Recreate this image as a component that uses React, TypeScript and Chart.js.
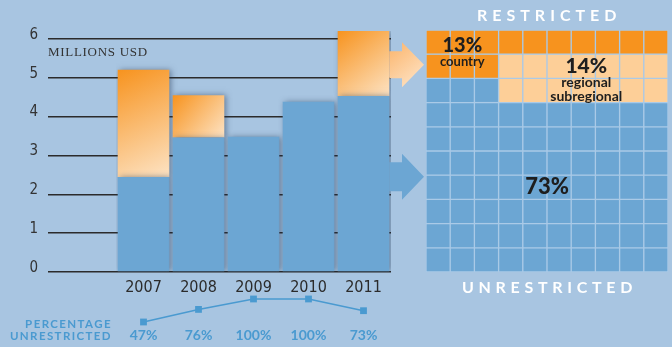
import React, { useEffect, useRef } from 'react';
import { Chart, registerables } from 'chart.js';

Chart.register(...registerables);

// ---------- data ----------
const years = ['2007', '2008', '2009', '2010', '2011'];
const totalsMillionUsd = [5.2, 4.55, 3.48, 4.38, 6.2];
const pctUnrestricted = [47, 76, 100, 100, 73];
const yTickValues = [0, 1, 2, 3, 4, 5, 6];
const restrictedShareLabels = ['13%', '14%'];
const restrictedShares = [13, 14]; // country, regional/subregional
const restrictedGroupNames = ['country', 'regional', 'subregional'];
const unrestrictedShare = 73;

// ---------- styles ----------
const BG = '#a8c5e1';
const BLUE = '#6ca6d3';
const ORANGE = '#f7931e';
const ORANGE_LIGHT = '#fde3c4';
const REGIONAL = '#fdcf98';
const GAP = '#aacae7';
const LINE_BLUE = '#4a9ad0';
const DARK = '#2b2b2b';
const NUM_FONT = "'Liberation Sans Narrow', 'DejaVu Sans Condensed', 'Arial Narrow', sans-serif";
const BOLD_FONT = "Lato, 'Open Sans', sans-serif";
const BAR_PCT = 0.938;
const PLOT_LEFT = 116;
const PLOT_RIGHT_PAD = 39;

const unrestricted = totalsMillionUsd.map((t, i) => +(t * pctUnrestricted[i] / 100).toFixed(3));
const restricted = totalsMillionUsd.map((t, i) => +(t - unrestricted[i]).toFixed(3));

const COLS = 10;
const ROWS = 10;
function cellKind(r: number, c: number): number {
  const [country, regional] = restrictedShares;
  const cFull = Math.floor(country / COLS);
  const cRem = country % COLS;
  const regCols = COLS - cRem;
  const regRows = Math.ceil(regional / regCols);
  if (r < cFull || (r === cFull && c < cRem)) return 0;
  if (r >= cFull && r < cFull + regRows && c >= cRem) return 1;
  return 2;
}
const cellColors = [ORANGE, REGIONAL, BLUE];

function drawArrow(ctx: CanvasRenderingContext2D, x0: number, x1: number, yc: number, shaftH: number, headH: number, headLen: number, fill: any) {
  const hb = x1 - headLen;
  ctx.beginPath();
  ctx.moveTo(x0, yc - shaftH / 2);
  ctx.lineTo(hb, yc - shaftH / 2);
  ctx.lineTo(hb, yc - headH / 2);
  ctx.lineTo(x1, yc);
  ctx.lineTo(hb, yc + headH / 2);
  ctx.lineTo(hb, yc + shaftH / 2);
  ctx.lineTo(x0, yc + shaftH / 2);
  ctx.closePath();
  ctx.fillStyle = fill;
  ctx.fill();
}

export default function App() {
  const barRef = useRef<HTMLCanvasElement>(null);
  const lineRef = useRef<HTMLCanvasElement>(null);
  const waffleRef = useRef<HTMLCanvasElement>(null);

  useEffect(() => {
    const shadowPlugin = {
      id: 'barShadow',
      beforeDatasetsDraw(chart: any) {
        const ctx = chart.ctx;
        ctx.save();
        ctx.shadowColor = 'rgba(30,50,80,0.5)';
        ctx.shadowBlur = 6;
        ctx.shadowOffsetX = 2;
        ctx.shadowOffsetY = 0;
      },
      afterDatasetsDraw(chart: any) {
        chart.ctx.restore();
      },
    };
    const arrowPlugin = {
      id: 'arrows',
      afterDraw(chart: any) {
        const ctx = chart.ctx;
        const last = years.length - 1;
        const eU = chart.getDatasetMeta(0).data[last];
        const eR = chart.getDatasetMeta(1).data[last];
        if (!eU || !eR) return;
        const x0 = eR.x + eR.width / 2;
        const x1 = chart.width - 6;
        const yR = eR.y + (eR.base - eR.y) * 0.52;
        const yU = eU.y + (eU.base - eU.y) * 0.46;
        ctx.save();
        const g = ctx.createLinearGradient(x0, yR - 22, x1, yR + 22);
        g.addColorStop(0, '#fbb46a');
        g.addColorStop(1, '#fee7cd');
        drawArrow(ctx, x0, x1, yR, 27, 45, 22, g);
        drawArrow(ctx, x0, x1, yU, 29, 46, 22, BLUE);
        ctx.restore();
      },
    };

    const orangeFill = (c: any) => {
      const chart = c.chart;
      const xs = chart.scales?.x;
      const ys = chart.scales?.y;
      if (!xs || !ys || c.dataIndex === undefined) return ORANGE;
      const i = c.dataIndex;
      const cx = xs.getPixelForValue(i);
      const w = (xs.width / years.length) * BAR_PCT;
      const top = ys.getPixelForValue(totalsMillionUsd[i]);
      const bot = ys.getPixelForValue(unrestricted[i]);
      if (!isFinite(cx) || !isFinite(top) || !isFinite(bot) || Math.abs(bot - top) < 1) return ORANGE;
      const g = chart.ctx.createLinearGradient(cx - w / 2, top, cx + w / 2, bot);
      g.addColorStop(0, ORANGE);
      g.addColorStop(1, ORANGE_LIGHT);
      return g;
    };

    const bar = new Chart(barRef.current!, {
      type: 'bar',
      data: {
        labels: years,
        datasets: [
          { label: 'Unrestricted', data: unrestricted, backgroundColor: BLUE, borderWidth: 0, barPercentage: BAR_PCT, categoryPercentage: 1 },
          { label: 'Restricted', data: restricted, backgroundColor: orangeFill as any, borderWidth: 0, barPercentage: BAR_PCT, categoryPercentage: 1 },
        ],
      },
      options: {
        animation: false,
        responsive: false,
        maintainAspectRatio: false,
        layout: { padding: { top: 31, right: PLOT_RIGHT_PAD, left: 0, bottom: 0 } },
        plugins: { legend: { display: false }, tooltip: { enabled: false } },
        scales: {
          x: {
            stacked: true,
            grid: { display: false, drawTicks: false },
            border: { display: false },
            ticks: { color: DARK, font: { family: NUM_FONT, size: 16 }, padding: 6 },
            afterFit: (s: any) => { s.height = 28; },
          },
          y: {
            stacked: true,
            min: 0,
            max: 6.2,
            afterBuildTicks: (s: any) => { s.ticks = yTickValues.map((v) => ({ value: v })); },
            ticks: { color: '#333', font: { family: NUM_FONT, size: 15 }, padding: 10, labelOffset: -4 },
            grid: { color: DARK, lineWidth: 1.5, tickLength: PLOT_LEFT - 48, drawTicks: true },
            border: { display: false },
            afterFit: (s: any) => { s.width = PLOT_LEFT; },
          },
        },
      },
      plugins: [shadowPlugin, arrowPlugin],
    } as any);

    const pctLabelPlugin = {
      id: 'pctLabels',
      afterDatasetsDraw(chart: any) {
        const ctx = chart.ctx;
        const meta = chart.getDatasetMeta(0);
        ctx.save();
        ctx.fillStyle = LINE_BLUE;
        ctx.font = `bold 14px ${BOLD_FONT}`;
        ctx.textAlign = 'center';
        ctx.textBaseline = 'middle';
        meta.data.forEach((el: any, i: number) => {
          ctx.fillText(`${pctUnrestricted[i]}%`, el.x, 45);
        });
        ctx.restore();
      },
    };

    const line = new Chart(lineRef.current!, {
      type: 'line',
      data: {
        labels: years,
        datasets: [{
          data: pctUnrestricted,
          borderColor: LINE_BLUE,
          backgroundColor: LINE_BLUE,
          borderWidth: 1.5,
          pointStyle: 'rect',
          pointRadius: 4.8,
          pointBorderWidth: 0,
          clip: false,
        }],
      },
      options: {
        animation: false,
        responsive: false,
        maintainAspectRatio: false,
        layout: { autoPadding: false, padding: { top: 0, right: PLOT_RIGHT_PAD, left: PLOT_LEFT, bottom: 7 } },
        plugins: { legend: { display: false }, tooltip: { enabled: false } },
        scales: {
          x: { display: false, offset: true },
          y: { display: false, min: 5.5, max: 120.7 },
        },
      },
      plugins: [pctLabelPlugin],
    } as any);

    const waffleLabels = {
      id: 'waffleLabels',
      afterDraw(chart: any) {
        const ctx = chart.ctx;
        const xs = chart.scales.x;
        const ys = chart.scales.y;
        const [country, regional] = restrictedShares;
        const cRem = country % COLS;
        const cFull = Math.floor(country / COLS);
        const regRows = Math.ceil(regional / (COLS - cRem));
        ctx.save();
        ctx.fillStyle = '#1e1e1e';
        ctx.textAlign = 'center';
        ctx.textBaseline = 'middle';
        // country
        const xC = (xs.getPixelForValue(0) + xs.getPixelForValue(cRem - 1)) / 2;
        const yC = ys.getPixelForValue(cFull);
        ctx.font = `900 20px ${BOLD_FONT}`;
        ctx.fillText(restrictedShareLabels[0], xC, yC - 9);
        ctx.font = `bold 13px ${BOLD_FONT}`;
        ctx.fillText(restrictedGroupNames[0], xC, yC + 8);
        // regional
        const xR = (xs.getPixelForValue(cRem) + xs.getPixelForValue(COLS - 1)) / 2 + 3;
        const yR = ys.getPixelForValue(cFull + regRows / 2);
        ctx.font = `900 21px ${BOLD_FONT}`;
        ctx.fillText(restrictedShareLabels[1], xR, yR - 12);
        ctx.font = `bold 14px ${BOLD_FONT}`;
        ctx.fillText(restrictedGroupNames[1], xR, yR + 4);
        ctx.fillText(restrictedGroupNames[2], xR, yR + 18);
        // unrestricted
        const restRows = cFull + regRows;
        const xU = (xs.getPixelForValue(0) + xs.getPixelForValue(COLS - 1)) / 2;
        const yU = ys.getPixelForValue(restRows + (ROWS - restRows) / 2);
        ctx.font = `900 22px ${BOLD_FONT}`;
        ctx.fillText(`${unrestrictedShare}%`, xU, yU);
        ctx.restore();
      },
    };

    const colLabels = Array.from({ length: COLS }, (_, c) => String(c));
    const waffle = new Chart(waffleRef.current!, {
      type: 'bar',
      data: {
        labels: colLabels,
        datasets: Array.from({ length: ROWS }, (_, r) => ({
          data: colLabels.map(() => 1),
          backgroundColor: colLabels.map((_, c) => cellColors[cellKind(r, c)]),
          borderColor: GAP,
          borderWidth: 1,
          borderSkipped: false,
          barPercentage: 1,
          categoryPercentage: 1,
        })),
      },
      options: {
        animation: false,
        responsive: false,
        maintainAspectRatio: false,
        layout: { padding: { top: 2, right: 4, left: 2, bottom: 4 } },
        plugins: { legend: { display: false }, tooltip: { enabled: false } },
        scales: {
          x: { display: false, stacked: true },
          y: { display: false, stacked: true, min: 0, max: ROWS, reverse: true },
        },
      },
      plugins: [waffleLabels],
    } as any);

    return () => {
      bar.destroy();
      line.destroy();
      waffle.destroy();
    };
  }, []);

  const abs = (s: any): React.CSSProperties => ({ position: 'absolute', whiteSpace: 'nowrap', lineHeight: 1, ...s });

  return (
    <div style={{ position: 'fixed', left: 0, top: 0, width: 672, height: 347, background: BG, overflow: 'hidden' }}>
      <canvas ref={barRef} width={430} height={300} style={{ position: 'absolute', left: 0, top: 0 }} />
      <canvas ref={lineRef} width={430} height={57} style={{ position: 'absolute', left: 0, top: 290 }} />
      <canvas ref={waffleRef} width={248} height={248} style={{ position: 'absolute', left: 424, top: 28 }} />
      <div style={abs({ left: 48, top: 45, fontFamily: "'Liberation Serif', serif", fontSize: 13, letterSpacing: 0.7, color: '#333' })}>MILLIONS USD</div>
      <div style={abs({ left: 477, top: 7, fontFamily: BOLD_FONT, fontWeight: 700, fontSize: 16, letterSpacing: 5, color: '#fff' })}>RESTRICTED</div>
      <div style={abs({ left: 462, top: 279, fontFamily: BOLD_FONT, fontWeight: 700, fontSize: 16, letterSpacing: 4.7, color: '#fff' })}>UNRESTRICTED</div>
      <div style={abs({ right: 672 - 112, top: 318, fontFamily: BOLD_FONT, fontWeight: 700, fontSize: 11.5, letterSpacing: 1.4, color: LINE_BLUE, textAlign: 'right' })}>PERCENTAGE</div>
      <div style={abs({ right: 672 - 112, top: 330, fontFamily: BOLD_FONT, fontWeight: 700, fontSize: 11.5, letterSpacing: 1.4, color: LINE_BLUE, textAlign: 'right' })}>UNRESTRICTED</div>
    </div>
  );
}
